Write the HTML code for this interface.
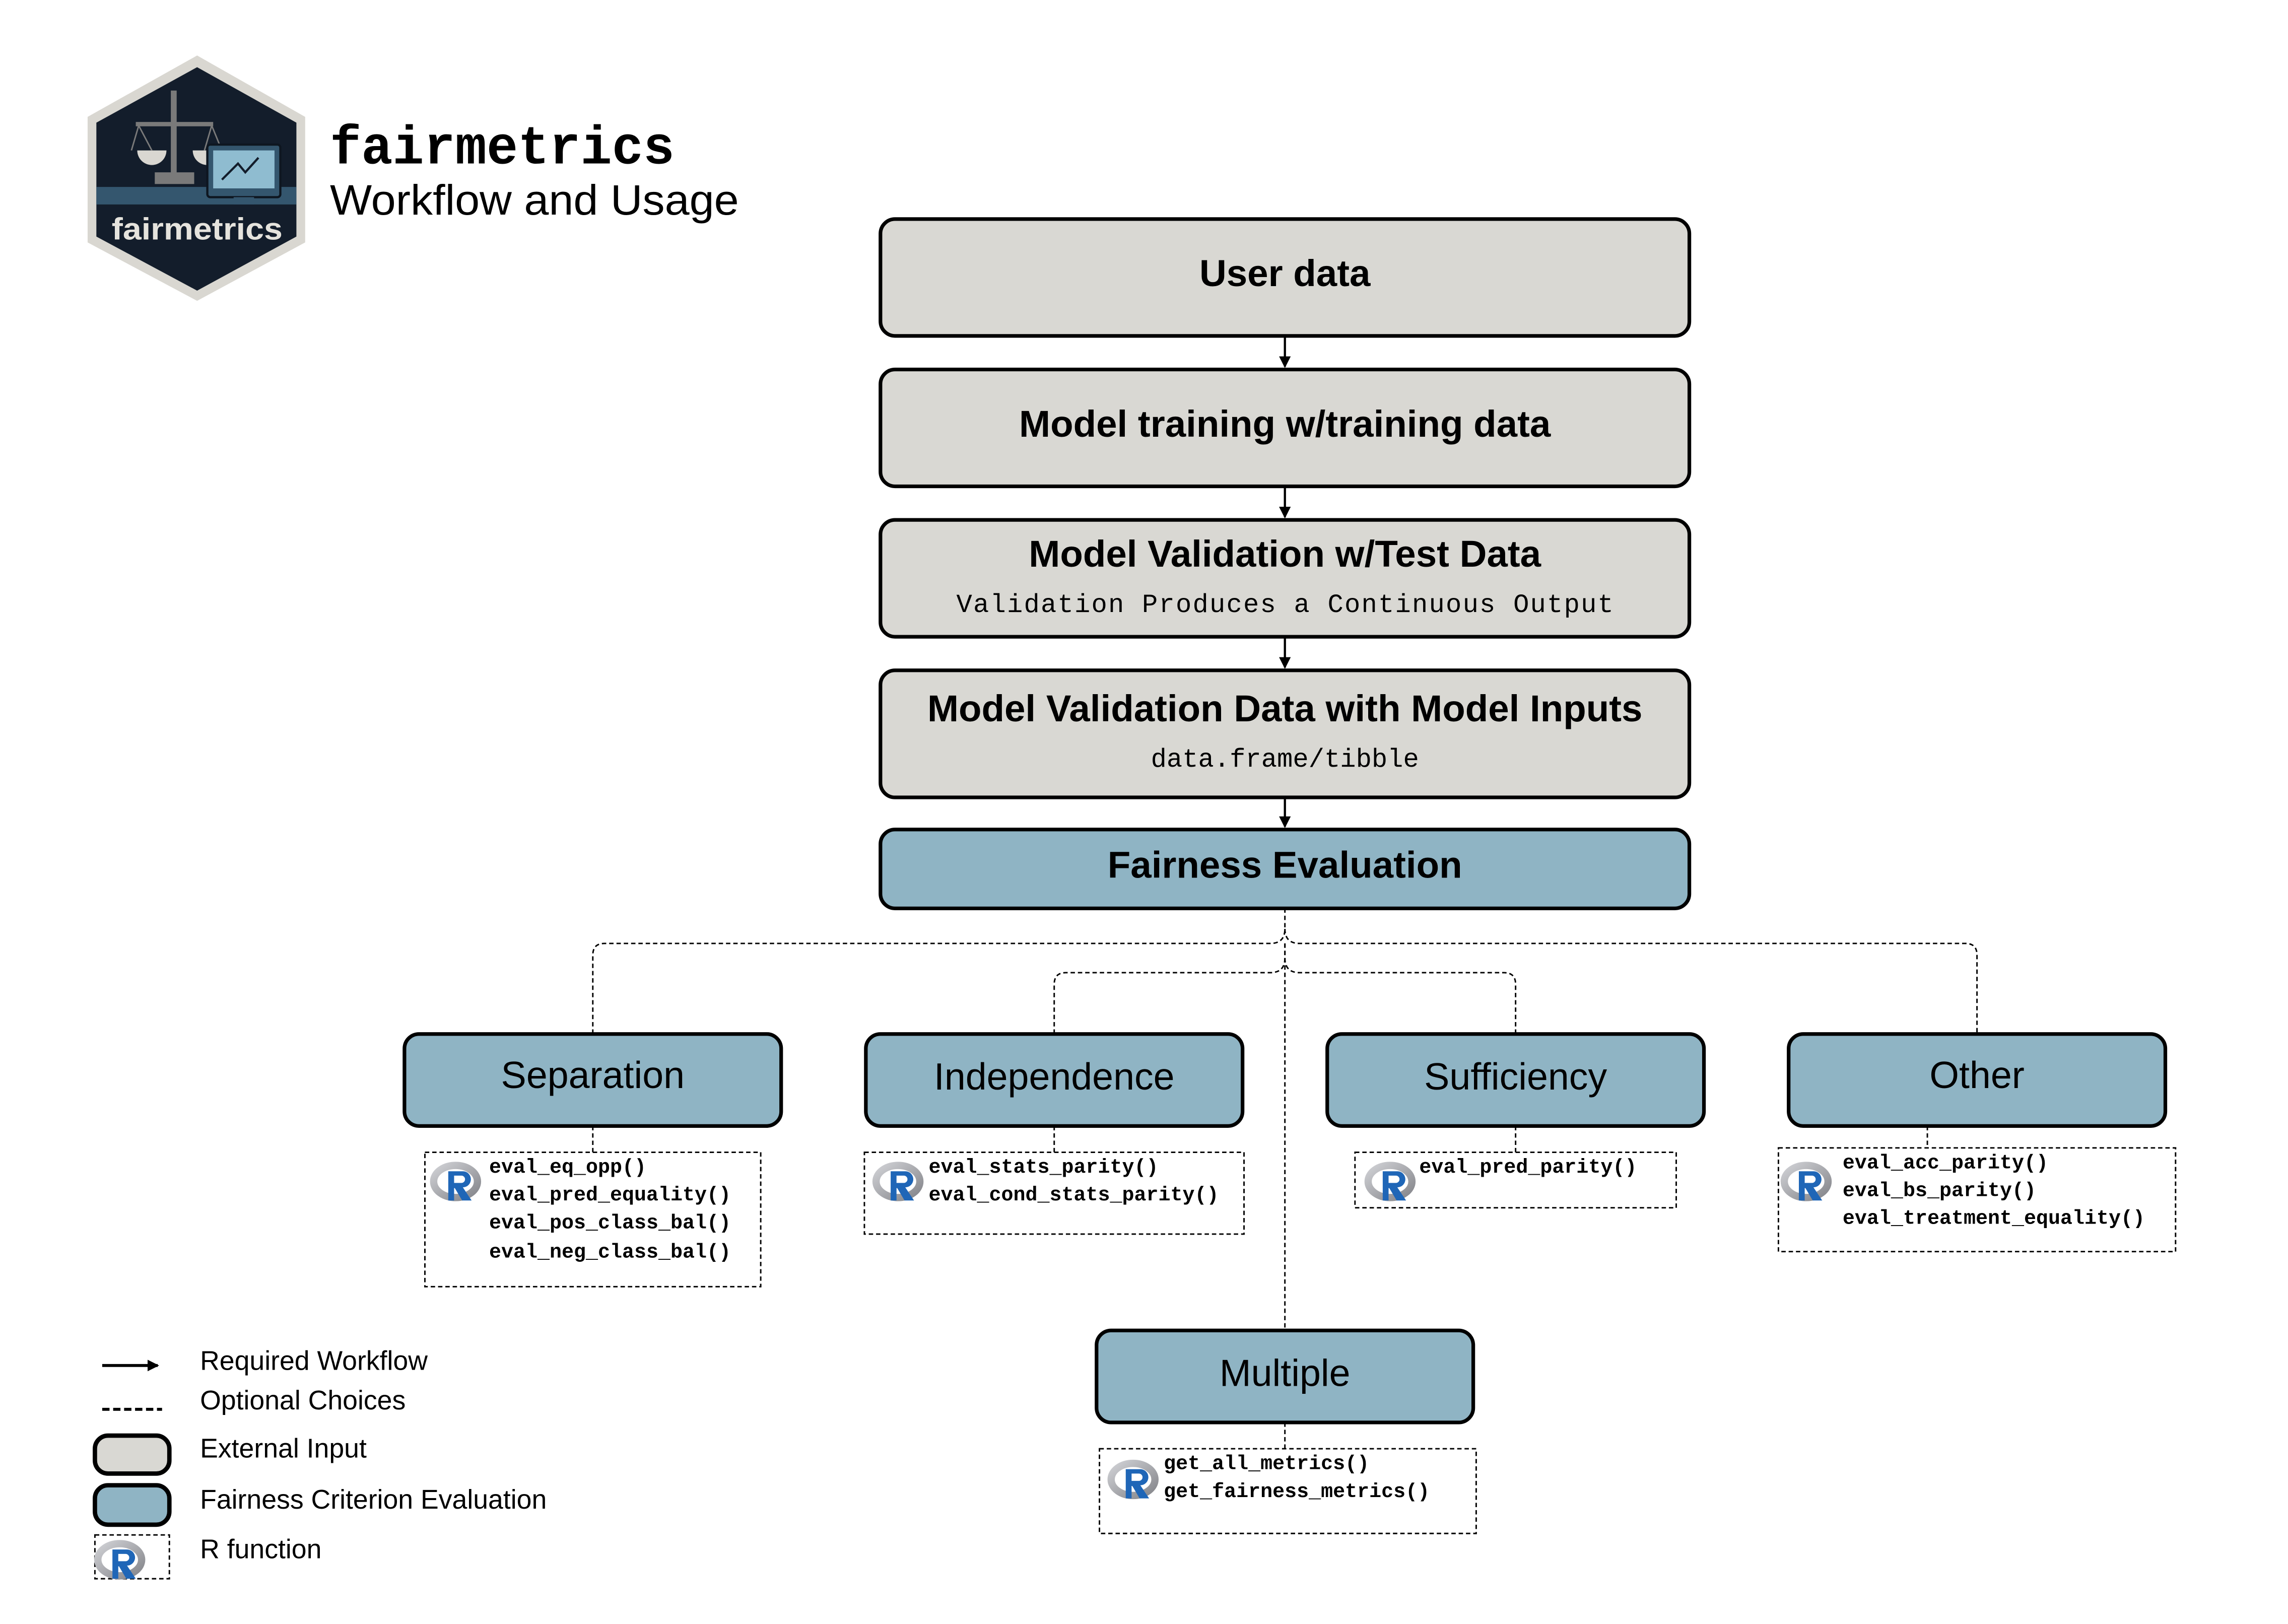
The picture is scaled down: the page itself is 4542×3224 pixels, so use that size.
<!DOCTYPE html>
<html><head><meta charset="utf-8"><style>
html,body{margin:0;padding:0;background:#fff;}
svg{display:block;}
.b{font-family:"Liberation Sans",sans-serif;font-weight:bold;fill:#000;}
.r{font-family:"Liberation Sans",sans-serif;fill:#000;}
.m{font-family:"Liberation Mono",monospace;fill:#000;}
.mb{font-family:"Liberation Mono",monospace;font-weight:bold;fill:#000;}
</style></head><body>
<svg width="4542" height="3224" viewBox="0 0 1567 1112" preserveAspectRatio="none" xmlns="http://www.w3.org/2000/svg">
<defs>
<marker id="ah" markerWidth="8" markerHeight="8" refX="7" refY="4" orient="auto" markerUnits="userSpaceOnUse"><path d="M0,0 L8,4 L0,8 Z" fill="#000"/></marker>
<linearGradient id="rg" x1="0" y1="0" x2="1" y2="1"><stop offset="0" stop-color="#cfd0d4"/><stop offset="1" stop-color="#85868b"/></linearGradient>
<g id="R">
<ellipse cx="0" cy="0" rx="15" ry="11" fill="none" stroke="url(#rg)" stroke-width="5"/>
<path d="M-5,-7 h10 a5.5,5.5 0 0 1 0,11 l6,9 h-6.5 l-5,-8.5 h-0.5 v8.5 h-4 z M-1,-4 v5 h5 a2.5,2.5 0 0 0 0,-5 z" fill="#1f66b7" fill-rule="evenodd"/>
</g>
</defs>

<!-- logo -->
<polygon points="135,38 209,80 209,166 135,206 60,166 60,80" fill="#d9d7d1"/>
<polygon points="135,46 203,84 203,162 135,199 66,162 66,84" fill="#131d2b"/>
<rect x="66" y="128" width="137" height="12" fill="#34566e"/>
<rect x="117" y="62" width="4" height="60" fill="#7a7a7a"/>
<rect x="106" y="118" width="27" height="8" fill="#7a7a7a"/>
<path d="M94,103 a10,10 0 0 0 20,0 z M132,103 a10,10 0 0 0 20,0 z" fill="#d9d7d1"/>
<path d="M93,85 L146,85" stroke="#7a7a7a" stroke-width="3"/>
<path d="M95,86 L90,103 M95,86 L104,103 M145,86 L140,103 M145,86 L152,103" stroke="#7a7a7a" stroke-width="1"/>
<rect x="142" y="99" width="50" height="36" rx="2" fill="#34566e" stroke="#0e1620" stroke-width="1.5"/>
<rect x="146" y="103" width="42" height="26" fill="#8fbcd0"/>
<polyline points="152,123 163,112 168,118 177,108" fill="none" stroke="#131d2b" stroke-width="1.5"/>
<rect x="160" y="135" width="14" height="5" fill="#34566e"/>
<text x="135" y="164" text-anchor="middle" class="r" style="fill:#e5e3dd;font-weight:bold" font-size="21" textLength="117" lengthAdjust="spacingAndGlyphs">fairmetrics</text>

<text x="226" y="112" class="mb" font-size="37" textLength="236" lengthAdjust="spacingAndGlyphs">fairmetrics</text>
<text x="226" y="147" class="r" font-size="29" textLength="280" lengthAdjust="spacingAndGlyphs">Workflow and Usage</text>

<!-- main flow -->
<g stroke="#000" stroke-width="2.5">
<rect x="603" y="150" width="554" height="80" rx="10" fill="#d9d8d3"/>
<rect x="603" y="253" width="554" height="80" rx="10" fill="#d9d8d3"/>
<rect x="603" y="356" width="554" height="80" rx="10" fill="#d9d8d3"/>
<rect x="603" y="459" width="554" height="87" rx="10" fill="#d9d8d3"/>
<rect x="603" y="568" width="554" height="54" rx="10" fill="#8fb4c4"/>
</g>
<g stroke="#000" stroke-width="1.5" marker-end="url(#ah)">
<line x1="880" y1="231" x2="880" y2="251"/>
<line x1="880" y1="334" x2="880" y2="354"/>
<line x1="880" y1="437" x2="880" y2="457"/>
<line x1="880" y1="547" x2="880" y2="566"/>
</g>
<text x="880" y="196" text-anchor="middle" class="b" font-size="25.7">User data</text>
<text x="880" y="299" text-anchor="middle" class="b" font-size="25.7">Model training w/training data</text>
<text x="880" y="388" text-anchor="middle" class="b" font-size="25.7">Model Validation w/Test Data</text>
<text x="880" y="419" text-anchor="middle" class="m" font-size="18" textLength="450" lengthAdjust="spacing">Validation Produces a Continuous Output</text>
<text x="880" y="494" text-anchor="middle" class="b" font-size="25.7">Model Validation Data with Model Inputs</text>
<text x="880" y="525" text-anchor="middle" class="m" font-size="18">data.frame/tibble</text>
<text x="880" y="601" text-anchor="middle" class="b" font-size="25.7">Fairness Evaluation</text>

<!-- dashed connectors -->
<g fill="none" stroke="#000" stroke-width="1" stroke-dasharray="3,2">
<path d="M880,622 V636 Q880,646 870,646 H414 Q406,646 406,654 V708"/>
<path d="M880,636 Q880,646 890,646 H1346 Q1354,646 1354,654 V708"/>
<path d="M880,646 V656 Q880,666 870,666 H730 Q722,666 722,674 V708"/>
<path d="M880,656 Q880,666 890,666 H1030 Q1038,666 1038,674 V708"/>
<line x1="880" y1="646" x2="880" y2="911"/>
<line x1="406" y1="771" x2="406" y2="789"/>
<line x1="722" y1="771" x2="722" y2="789"/>
<line x1="1038" y1="771" x2="1038" y2="789"/>
<line x1="1320" y1="771" x2="1320" y2="786"/>
<line x1="880" y1="974" x2="880" y2="992"/>
<rect x="291" y="789" width="230" height="92"/>
<rect x="592" y="789" width="260" height="56"/>
<rect x="928" y="789" width="220" height="38"/>
<rect x="1218" y="786" width="272" height="71"/>
<rect x="753" y="992" width="258" height="58"/>
</g>

<!-- criterion boxes -->
<g stroke="#000" stroke-width="2.5" fill="#8fb4c4">
<rect x="277" y="708" width="258" height="63" rx="10"/>
<rect x="593" y="708" width="258" height="63" rx="10"/>
<rect x="909" y="708" width="258" height="63" rx="10"/>
<rect x="1225" y="708" width="258" height="63" rx="10"/>
<rect x="751" y="911" width="258" height="63" rx="10"/>
</g>
<text x="406" y="745" text-anchor="middle" class="r" font-size="26">Separation</text>
<text x="722" y="746" text-anchor="middle" class="r" font-size="26">Independence</text>
<text x="1038" y="746" text-anchor="middle" class="r" font-size="26">Sufficiency</text>
<text x="1354" y="745" text-anchor="middle" class="r" font-size="26">Other</text>
<text x="880" y="949" text-anchor="middle" class="r" font-size="26">Multiple</text>

<!-- R functions -->
<use href="#R" x="312" y="809"/>
<text class="mb" font-size="13.8"><tspan x="335" y="803">eval_eq_opp()</tspan><tspan x="335" y="822">eval_pred_equality()</tspan><tspan x="335" y="841">eval_pos_class_bal()</tspan><tspan x="335" y="861">eval_neg_class_bal()</tspan></text>
<use href="#R" x="615" y="809"/>
<text class="mb" font-size="13.8"><tspan x="636" y="803">eval_stats_parity()</tspan><tspan x="636" y="822">eval_cond_stats_parity()</tspan></text>
<use href="#R" x="952" y="809"/>
<text class="mb" font-size="13.8"><tspan x="972" y="803">eval_pred_parity()</tspan></text>
<use href="#R" x="1237" y="809"/>
<text class="mb" font-size="13.8"><tspan x="1262" y="800">eval_acc_parity()</tspan><tspan x="1262" y="819">eval_bs_parity()</tspan><tspan x="1262" y="838">eval_treatment_equality()</tspan></text>
<use href="#R" x="776" y="1013"/>
<text class="mb" font-size="13.8"><tspan x="797" y="1006">get_all_metrics()</tspan><tspan x="797" y="1025">get_fairness_metrics()</tspan></text>

<!-- legend -->
<line x1="70" y1="935" x2="108" y2="935" stroke="#000" stroke-width="2" marker-end="url(#ah)"/>
<line x1="70" y1="965" x2="111" y2="965" stroke="#000" stroke-width="2" stroke-dasharray="5,2.5"/>
<rect x="65" y="983" width="51" height="26" rx="9" fill="#d9d8d3" stroke="#000" stroke-width="3"/>
<rect x="65" y="1017" width="51" height="27" rx="9" fill="#8fb4c4" stroke="#000" stroke-width="3"/>
<rect x="65" y="1051" width="51" height="30" fill="none" stroke="#000" stroke-width="1" stroke-dasharray="3,2"/>
<use href="#R" x="82" y="1068"/>
<text class="r" font-size="18.5"><tspan x="137" y="938">Required Workflow</tspan><tspan x="137" y="965">Optional Choices</tspan><tspan x="137" y="998">External Input</tspan><tspan x="137" y="1033">Fairness Criterion Evaluation</tspan><tspan x="137" y="1067">R function</tspan></text>
</svg>
</body></html>
